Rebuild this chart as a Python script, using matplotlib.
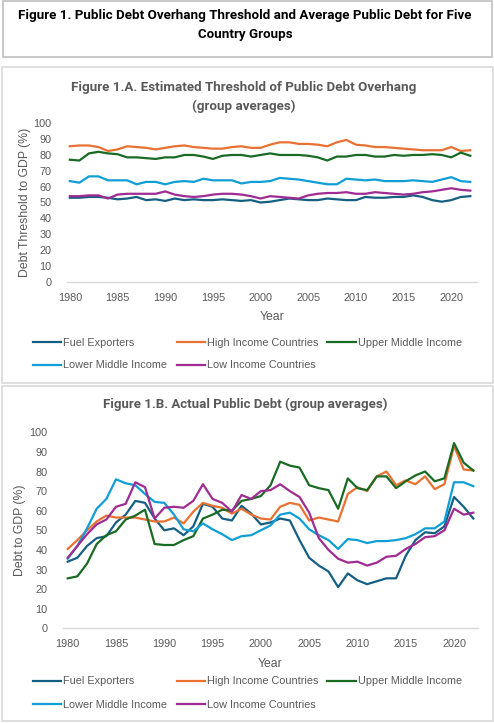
import matplotlib
matplotlib.use("Agg")
import matplotlib.pyplot as plt
from matplotlib.patches import Rectangle
import numpy as np

years = list(range(1980, 2023))
groups = ["Fuel Exporters", "High Income Countries", "Upper Middle Income",
          "Lower Middle Income", "Low Income Countries"]
colors = ["#156082", "#E97132", "#196B24", "#0F9ED5", "#A02B93"]

# Figure 1.A: estimated threshold (% of GDP)
thr_fuel = [53, 53, 53.5, 53.5, 53, 52, 52.5, 53.5, 51.5, 52, 51, 52.5, 51.5, 52, 51.5,
            51.5, 52, 51.5, 51, 51.5, 50, 50.5, 51.5, 52.5, 52, 51.5, 51.5, 52.5, 52, 51.5,
            51.5, 53.5, 53, 53, 53.5, 53.5, 54.5, 53.5, 51.5, 50.5, 51.5, 53.5, 54]
thr_high = [85.5, 86, 86, 85, 82.5, 83.5, 85.5, 85, 84.5, 83.5, 84.5, 85.5, 86, 85, 84.5,
            84, 84, 85, 85.5, 84.5, 84.5, 86.5, 88, 88, 87, 87, 86.5, 85.5, 88, 89.5,
            86.5, 86, 85, 85, 84.5, 84, 83.5, 83, 83, 83, 85, 82.5, 83]
thr_upper = [77, 76.5, 81, 82, 81, 80.5, 78.5, 78.5, 78, 77.5, 78.5, 78.5, 80, 80, 79,
             77.5, 79.5, 80, 80, 79, 80, 81, 80, 80, 80, 79.5, 78.5, 76.5, 79, 79,
             80, 80, 79, 79, 80, 79.5, 80, 80, 80.5, 80, 78.5, 81.5, 79.5]
thr_lower = [63.5, 62.5, 66.5, 66.5, 64, 64, 64, 61.5, 63, 63, 61.5, 63, 63.5, 63, 65,
             64, 64, 64, 62, 63, 63, 63.5, 65.5, 65, 64.5, 63.5, 62.5, 61.5, 61.5, 65,
             64.5, 64, 64.5, 63.5, 63.5, 63.5, 64, 63.5, 63, 64.5, 66, 63.5, 63]
thr_low = [54, 54, 54.5, 54.5, 52.5, 55, 55.5, 55.5, 55.5, 55.5, 57, 55, 54, 53.5, 54,
           55, 55.5, 55.5, 55, 54, 52.5, 54, 53.5, 53, 52.5, 54.5, 55.5, 56, 56, 56.5,
           55.5, 55.5, 56.5, 56, 55.5, 55, 55.5, 56.5, 57, 58, 59, 58, 57.5]

# Figure 1.B: actual public debt (% of GDP)
debt_fuel = [34, 36, 42, 46, 47, 54, 58, 65, 64, 56, 50, 51, 47.5, 52, 63.5,
             62, 56, 55, 62.5, 58.5, 53, 54, 56, 55, 45, 36, 32, 29, 21, 28,
             24.5, 22.5, 24, 25.5, 25.5, 37, 45, 49, 48.5, 52, 67, 62, 56]
debt_high = [40.5, 45, 50, 54.5, 57.5, 56.5, 56.5, 56.5, 55.5, 54.5, 54.5, 56.5, 53.5, 59.5, 64,
             62.5, 61.5, 58.5, 61, 58, 56, 55.5, 62, 64, 63, 55, 56.5, 55.5, 54.5, 68.5,
             72, 70, 77.5, 80, 73, 75.5, 73.5, 77.5, 71, 73.5, 93, 81, 80.5]
debt_upper = [25.5, 26.5, 33, 43, 47.5, 49.5, 55.5, 57.5, 60.5, 43, 42.5, 42.5, 45, 47, 56,
              58, 60.5, 60, 65, 66, 67.5, 73, 85, 83, 82, 73, 71.5, 70.5, 61, 76.5,
              71.5, 70.5, 77.5, 77.5, 71.5, 75, 78, 80, 75, 76.5, 94.5, 84.5, 80.5]
debt_lower = [35.5, 42, 51, 61, 66, 76, 74, 73, 68.5, 64.5, 64, 58, 50.5, 49.5, 53.5,
              50.5, 48, 45, 47, 47.5, 50, 52.5, 58, 59, 56, 50.5, 47.5, 45, 40.5, 45.5,
              45, 43.5, 44.5, 44.5, 45, 46, 48, 51, 51, 54.5, 74.5, 74.5, 72.5]
debt_low = [36, 42, 48, 53, 55.5, 62, 63.5, 74.5, 72, 56, 61.5, 62, 61.5, 65, 73.5,
            66, 64, 59.5, 68, 66, 70, 70.5, 73.5, 70, 67, 59, 46, 40, 35.5, 33.5,
            34, 32, 33.5, 36.5, 37, 40.5, 43, 46.5, 47, 50, 61, 58, 59]

thresholds = [thr_fuel, thr_high, thr_upper, thr_lower, thr_low]
debts = [debt_fuel, debt_high, debt_upper, debt_lower, debt_low]

plt.rcParams['font.family'] = ['Liberation Sans', 'DejaVu Sans']

W, H = 494, 723
fig = plt.figure(figsize=(W / 100, H / 100), dpi=100)
renderer = fig.canvas.get_renderer()
gray = "#595959"


def fx(x):
    return x / W


def fy(y):
    return 1 - y / H


def box(x0, y0, x1, y1, ec):
    fig.patches.append(Rectangle((fx(x0), fy(y1)), fx(x1 - x0), (y1 - y0) / H,
                                 transform=fig.transFigure, fill=False, ec=ec, lw=1.2))


def title_lines(x, ys, lines, width, color):
    # shrink the bold title so the first line spans the same width as the reference
    t = fig.text(fx(x), fy(ys[0]), lines[0], ha="center", va="center", fontsize=10,
                 fontweight="bold", color=color, family="Roboto")
    w = t.get_window_extent(renderer).width
    size = 10 * width / w
    t.set_fontsize(size)
    for y, s in zip(ys[1:], lines[1:]):
        fig.text(fx(x), fy(y), s, ha="center", va="center", fontsize=size,
                 fontweight="bold", color=color, family="Roboto")


box(3, 1, 492, 57, "#c0c0c0")
box(1.5, 67, 492.5, 383, "#d9d9d9")
box(1.5, 386, 492.5, 721, "#d9d9d9")

title_lines(245, [16, 34.5], ["Figure 1. Public Debt Overhang Threshold and Average Public Debt for Five",
                              "Country Groups"], 450, "black")
title_lines(244, [88, 106.5], ["Figure 1.A. Estimated Threshold of Public Debt Overhang",
                               "(group averages)"], 343, gray)
title_lines(245, [404], ["Figure 1.B. Actual Public Debt (group averages)"], 285, gray)


def panel(left, right, y0px, y100px, xlim, data, ylabel, ylab_x, leg_y):
    ax = fig.add_axes([fx(left), fy(y0px), fx(right - left), (y0px - y100px) / H])
    for vals, name, c in zip(data, groups, colors):
        ax.plot(years, vals, color=c, lw=1.6, label=name, solid_joinstyle="round")
    ax.set_xlim(*xlim)
    ax.set_ylim(0, 100)
    ax.set_yticks(range(0, 101, 10))
    ax.set_xticks(range(1980, 2021, 5))
    for s in ["top", "right", "left"]:
        ax.spines[s].set_visible(False)
    ax.spines["bottom"].set_color("#d9d9d9")
    ax.spines["bottom"].set_linewidth(1.0)
    ax.spines["bottom"].set_zorder(0)
    ax.tick_params(length=0, labelsize=7.8, colors=gray, pad=8)
    ax.tick_params(axis="y", pad=11)
    ax.set_facecolor("none")
    fig.text(fx(ylab_x), fy((y0px + y100px) / 2), ylabel, rotation=90,
             ha="center", va="center", fontsize=8.8, color=gray)
    fig.text(fx(0.5 * (left + right)), fy(y0px + 35.5), "Year",
             ha="center", va="center", fontsize=8.8, color=gray)
    h, l = ax.get_legend_handles_labels()
    order = [0, 3, 1, 4, 2]
    fig.legend([h[i] for i in order], [l[i] for i in order], ncol=3,
               loc="upper left", bbox_to_anchor=(fx(33), fy(leg_y)),
               frameon=False, fontsize=7.8, labelcolor=gray, handlelength=2.6,
               handletextpad=0.2, columnspacing=0.85, borderpad=0, borderaxespad=0,
               labelspacing=1.2)
    return ax


panel(67, 477, 281.7, 123.3, (1979.7, 2022.7), thresholds, "Debt Threshold to GDP (%)", 25, 337.5)
panel(62.7, 478, 628.3, 432.3, (1979.48, 2022.48), debts, "Debt to GDP (%)", 20, 676.5)

fig.savefig("out.png", dpi=100)
